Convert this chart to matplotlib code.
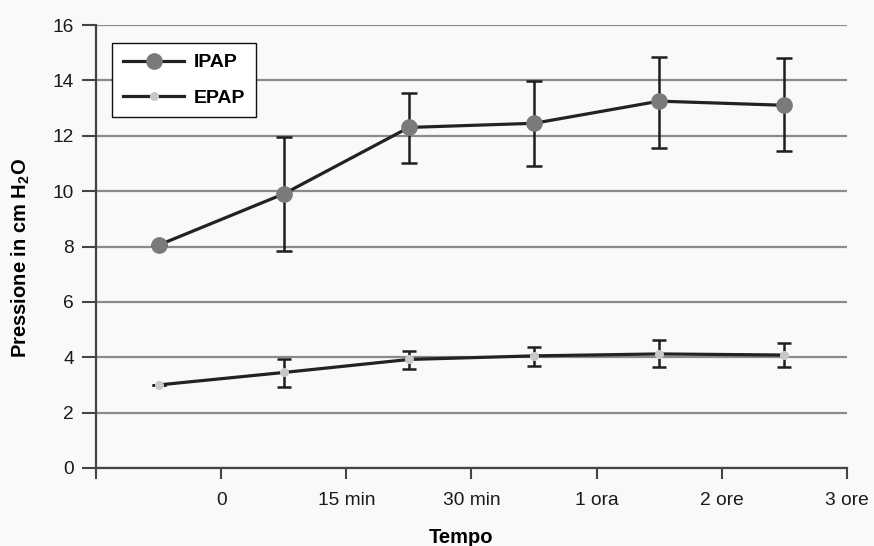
import matplotlib
matplotlib.use("Agg")
import matplotlib.pyplot as plt
import numpy as np

plt.rcParams['font.family'] = ['Liberation Sans', 'DejaVu Sans']
plt.rcParams['mathtext.fontset'] = 'custom'
plt.rcParams['mathtext.rm'] = 'Liberation Sans'
plt.rcParams['mathtext.bf'] = 'Liberation Sans:bold'

tick_labels = ['0', '15 min', '30 min', '1 ora', '2 ore', '3 ore']
ipap = [8.05, 9.9, 12.3, 12.45, 13.25, 13.1]
ipap_hi = [8.05, 11.95, 13.55, 13.97, 14.86, 14.8]
ipap_lo = [8.05, 7.84, 11.02, 10.9, 11.57, 11.45]
epap = [3.0, 3.45, 3.92, 4.05, 4.12, 4.08]
epap_hi = [3.0, 3.95, 4.22, 4.38, 4.62, 4.5]
epap_lo = [3.0, 2.92, 3.56, 3.68, 3.63, 3.65]

bg = '#f9f9f9'
fig = plt.figure(figsize=(8.74, 5.46), dpi=100, facecolor=bg)
ax = fig.add_axes([96/874, 78/546, 751/874, 443/546])
ax.set_facecolor(bg)

n = len(ipap)
x = np.arange(n) + 0.5
ipap_a = np.array(ipap)
epap_a = np.array(epap)
ipap_err = [ipap_a - np.array(ipap_lo), np.array(ipap_hi) - ipap_a]
epap_err = [epap_a - np.array(epap_lo), np.array(epap_hi) - epap_a]

ax.set_ylim(0, 16)
ax.set_xlim(0, n)
ax.set_yticks(np.arange(0, 17, 2))
ax.yaxis.grid(True, color='#8a8a8a', linewidth=1.6)
ax.set_axisbelow(True)

ax.errorbar(x, ipap, yerr=ipap_err, fmt='none', ecolor='#1e1e1e',
            elinewidth=1.8, capsize=6, capthick=1.8, zorder=3)
ax.errorbar(x, epap, yerr=epap_err, fmt='none', ecolor='#1e1e1e',
            elinewidth=1.8, capsize=5, capthick=1.8, zorder=3)

ax.plot(x, ipap, color='#222222', linewidth=2.3, marker='o', markersize=11,
        markerfacecolor='#7a7a7a', markeredgecolor='#7a7a7a', label='IPAP', zorder=4)
ax.plot(x, epap, color='#222222', linewidth=2.3, marker='o', markersize=5.5,
        markerfacecolor='#c8c8c8', markeredgecolor='#c8c8c8', label='EPAP', zorder=4)

ax.set_xticks(np.arange(0, n + 1))
ax.set_xticklabels([''] + tick_labels)

for s in ['top', 'right']:
    ax.spines[s].set_visible(False)
for s in ['left', 'bottom']:
    ax.spines[s].set_color('#444444')
    ax.spines[s].set_linewidth(1.6)
ax.tick_params(axis='y', direction='out', length=10, width=1.5, color='#444444',
               labelsize=13.8, pad=6, labelcolor='#1a1a1a')
ax.tick_params(axis='x', direction='out', length=8, width=1.5, color='#444444',
               labelsize=13.8, pad=9, labelcolor='#1a1a1a')

ax.set_ylabel('Pressione in cm H$_\\mathbf{2}$O', fontsize=14.5, fontweight='bold')
ax.yaxis.set_label_coords(-0.0919, 0.475)
ax.yaxis.label.set_verticalalignment('baseline')
ax.set_xlabel('Tempo', fontsize=14.5, fontweight='bold')
ax.xaxis.set_label_coords(0.486, -0.1686)
ax.xaxis.label.set_verticalalignment('baseline')

leg = ax.legend(loc='upper left', bbox_to_anchor=(0.0213, 0.959), frameon=True,
                fancybox=False, edgecolor='#111111', facecolor='white',
                prop={'weight': 'bold', 'size': 14}, handlelength=3.17,
                borderpad=0.55, labelspacing=0.9, handletextpad=0.48,
                borderaxespad=0, framealpha=1)
leg.get_frame().set_linewidth(1.0)

fig.savefig('out.png', dpi=100, facecolor=bg)
